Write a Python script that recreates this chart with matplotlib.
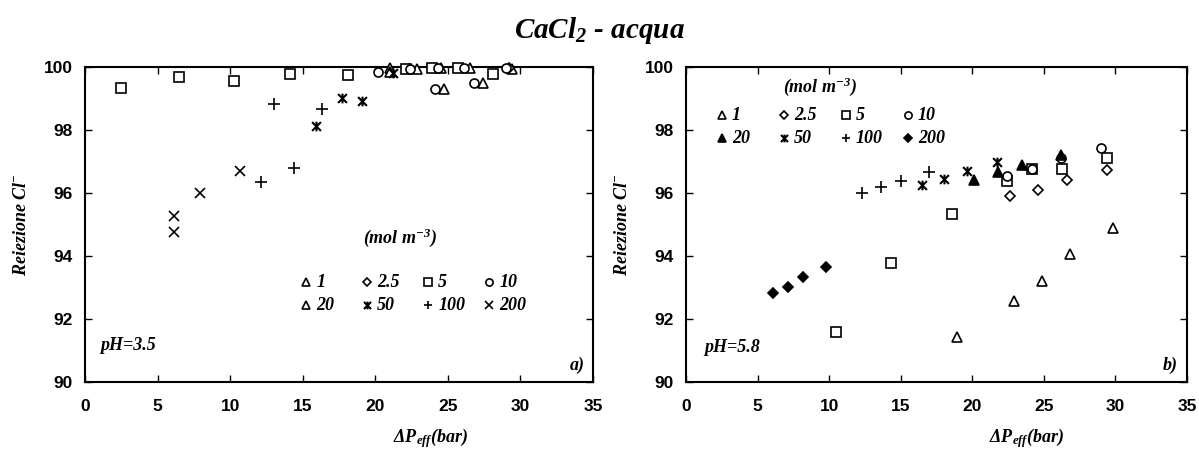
import matplotlib
matplotlib.use("Agg")
import matplotlib.pyplot as plt
from matplotlib.lines import Line2D
from matplotlib.path import Path

plt.rcParams['mathtext.fontset'] = 'custom'
plt.rcParams['mathtext.rm'] = 'Liberation Serif:bold:italic'
plt.rcParams['mathtext.it'] = 'Liberation Serif:bold:italic'
plt.rcParams['mathtext.bf'] = 'Liberation Serif:bold:italic'
plt.rcParams['mathtext.default'] = 'rm'

# ---- data: panel a) pH=3.5 ----
a_c1_x = [21.0, 22.9, 24.5, 26.5, 29.4]
a_c1_y = [99.97, 99.93, 99.97, 99.97, 99.95]
a_c25_x = [22.3, 29.2]
a_c25_y = [99.95, 99.97]
a_c5_x = [2.5, 6.5, 10.3, 14.1, 18.1, 22.1, 23.9, 25.7, 28.1]
a_c5_y = [99.33, 99.68, 99.56, 99.78, 99.75, 99.94, 99.97, 99.97, 99.78]
a_c10_x = [20.2, 22.4, 24.3, 24.1, 26.1, 26.8, 29.0]
a_c10_y = [99.84, 99.95, 99.97, 99.30, 99.98, 99.50, 99.97]
a_c20_x = [21.0, 24.7, 27.4]
a_c20_y = [99.85, 99.30, 99.50]
a_c50_x = [15.9, 17.7, 19.1, 21.2]
a_c50_y = [98.13, 99.02, 98.92, 99.80]
a_c100_x = [12.1, 13.0, 14.4, 16.3]
a_c100_y = [96.35, 98.83, 96.80, 98.67]
a_c200_x = [6.1, 6.1, 7.9, 10.7]
a_c200_y = [95.27, 94.76, 96.00, 96.70]

# ---- data: panel b) pH=5.8 ----
b_c1_x = [18.9, 22.9, 24.9, 26.8, 29.8]
b_c1_y = [91.43, 92.57, 93.20, 94.06, 94.89]
b_c25_x = [22.6, 24.6, 26.6, 29.4]
b_c25_y = [95.90, 96.10, 96.41, 96.73]
b_c5_x = [10.5, 14.3, 18.6, 22.4, 24.2, 26.3, 29.4]
b_c5_y = [91.59, 93.78, 95.33, 96.38, 96.76, 96.76, 97.11]
b_c10_x = [22.4, 24.2, 26.2, 29.0]
b_c10_y = [96.54, 96.76, 97.12, 97.43]
b_c20_x = [20.1, 21.8, 23.5, 26.2]
b_c20_y = [96.41, 96.67, 96.89, 97.20]
b_c50_x = [16.5, 18.0, 19.6, 21.7]
b_c50_y = [96.25, 96.46, 96.70, 96.98]
b_c100_x = [12.3, 13.6, 15.0, 17.0]
b_c100_y = [96.00, 96.19, 96.38, 96.67]
b_c200_x = [6.1, 7.1, 8.2, 9.8]
b_c200_y = [92.83, 93.02, 93.33, 93.65]

conc_labels = ['1', '2.5', '5', '10', '20', '50', '100', '200']
x_ticks = [0, 5, 10, 15, 20, 25, 30, 35]
y_ticks = [90, 92, 94, 96, 98, 100]

# asterisk marker: an "x" with a vertical bar
AST = Path([(-1, -1), (1, 1), (-1, 1), (1, -1), (0, -1.1), (0, 1.1)],
           [Path.MOVETO, Path.LINETO, Path.MOVETO, Path.LINETO, Path.MOVETO, Path.LINETO])

styles_a = [
    dict(marker='^', mfc='white', ms=7), dict(marker='D', mfc='white', ms=5),
    dict(marker='s', mfc='white'), dict(marker='o', mfc='white'),
    dict(marker='^', mfc='white', ms=7), dict(marker=AST, mfc='black', ms=7, mew=1.5),
    dict(marker='+', mfc='black', ms=8), dict(marker='x', mfc='black', ms=7),
]
styles_b = [
    dict(marker='^', mfc='white', ms=7), dict(marker='D', mfc='white', ms=5),
    dict(marker='s', mfc='white'), dict(marker='o', mfc='white'),
    dict(marker='^', mfc='black', ms=7), dict(marker=AST, mfc='black', ms=7, mew=1.5),
    dict(marker='+', mfc='black', ms=8), dict(marker='D', mfc='black', ms=5.5),
]

series_a = [(a_c1_x, a_c1_y), (a_c25_x, a_c25_y), (a_c5_x, a_c5_y), (a_c10_x, a_c10_y),
            (a_c20_x, a_c20_y), (a_c50_x, a_c50_y), (a_c100_x, a_c100_y), (a_c200_x, a_c200_y)]
series_b = [(b_c1_x, b_c1_y), (b_c25_x, b_c25_y), (b_c5_x, b_c5_y), (b_c10_x, b_c10_y),
            (b_c20_x, b_c20_y), (b_c50_x, b_c50_y), (b_c100_x, b_c100_y), (b_c200_x, b_c200_y)]

W, H = 1199, 450
fig = plt.figure(figsize=(W / 100, H / 100), dpi=100)
axA = fig.add_axes([85 / W, 1 - 382 / H, (593 - 85) / W, (382 - 67) / H])
axB = fig.add_axes([686 / W, 1 - 382 / H, (1187 - 686) / W, (382 - 67) / H])

serif = dict(family='Liberation Serif', weight='bold', style='italic')


def base_style(m):
    d = dict(ms=6.5, mec='black', mew=1.2, ls='none', color='black')
    d.update(m)
    return d


def draw(ax, series, styles):
    for (xs, ys), st in zip(series, styles):
        ax.plot(xs, ys, clip_on=False, zorder=3, **base_style(st))
    ax.set_xlim(0, 35)
    ax.set_ylim(90, 100)
    ax.set_xticks(x_ticks)
    ax.set_yticks(y_ticks)
    ax.tick_params(direction='in', top=True, right=True, length=5, width=1)
    ax.tick_params(axis='x', pad=12)
    ax.tick_params(axis='y', pad=9)
    for lab in ax.get_xticklabels() + ax.get_yticklabels():
        lab.set_fontfamily('Liberation Sans')
        lab.set_fontweight('bold')
        lab.set_fontsize(12.5)
    for s in ax.spines.values():
        s.set_linewidth(1.5)
    ax.set_xlabel(r'$\Delta$P$_{eff}$(bar)', fontsize=13, labelpad=9, x=0.68, **serif)
    ax.set_ylabel(r'Reiezione Cl$^{-}$', fontsize=13, labelpad=10, **serif)


draw(axA, series_a, styles_a)
draw(axB, series_b, styles_b)


def legend_block(ax, styles, x0, y0, hx, hy, header_xy):
    ax.text(*header_xy, r'(mol m$^{-3}$)', transform=ax.transAxes, fontsize=13,
            ha='center', va='center', **serif)
    for i, (lab, st) in enumerate(zip(conc_labels, styles)):
        r, c = divmod(i, 4)
        xm = x0 + c * hx
        ym = y0 - r * hy
        st2 = base_style(st)
        st2['ms'] = st2['ms'] * 0.8
        ax.add_line(Line2D([xm], [ym], transform=ax.transAxes, **st2))
        ax.text(xm + 0.02, ym, lab, transform=ax.transAxes, fontsize=13,
                ha='left', va='center', **serif)


def ax_frac(px, py, x0, x1):
    return (px - x0) / (x1 - x0), (382 - py) / (382 - 67)


# panel a legend
xa0, ya0 = ax_frac(306, 282, 85, 593)
hxa = (367 - 306) / (593 - 85)
hya = (305 - 282) / (382 - 67)
legend_block(axA, styles_a, xa0, ya0, hxa, hya, ax_frac(400, 238, 85, 593))
# panel b legend
xb0, yb0 = ax_frac(722, 115, 686, 1187)
hxb = (784 - 722) / (1187 - 686)
hyb = (138 - 115) / (382 - 67)
legend_block(axB, styles_b, xb0, yb0, hxb, hyb, ax_frac(820, 87, 686, 1187))

axA.text(*ax_frac(100, 345, 85, 593), 'pH=3.5', transform=axA.transAxes, fontsize=13,
         ha='left', va='center', **serif)
axA.text(*ax_frac(585, 365, 85, 593), 'a)', transform=axA.transAxes, fontsize=13,
         ha='right', va='center', **serif)
axB.text(*ax_frac(704, 348, 686, 1187), 'pH=5.8', transform=axB.transAxes, fontsize=13,
         ha='left', va='center', **serif)
axB.text(*ax_frac(1178, 365, 686, 1187), 'b)', transform=axB.transAxes, fontsize=13,
         ha='right', va='center', **serif)

fig.text(0.5, 1 - 31 / H, r'CaCl$_{2}$ - acqua', fontsize=21, ha='center', va='center', **serif)

fig.savefig('out.png', dpi=100)
